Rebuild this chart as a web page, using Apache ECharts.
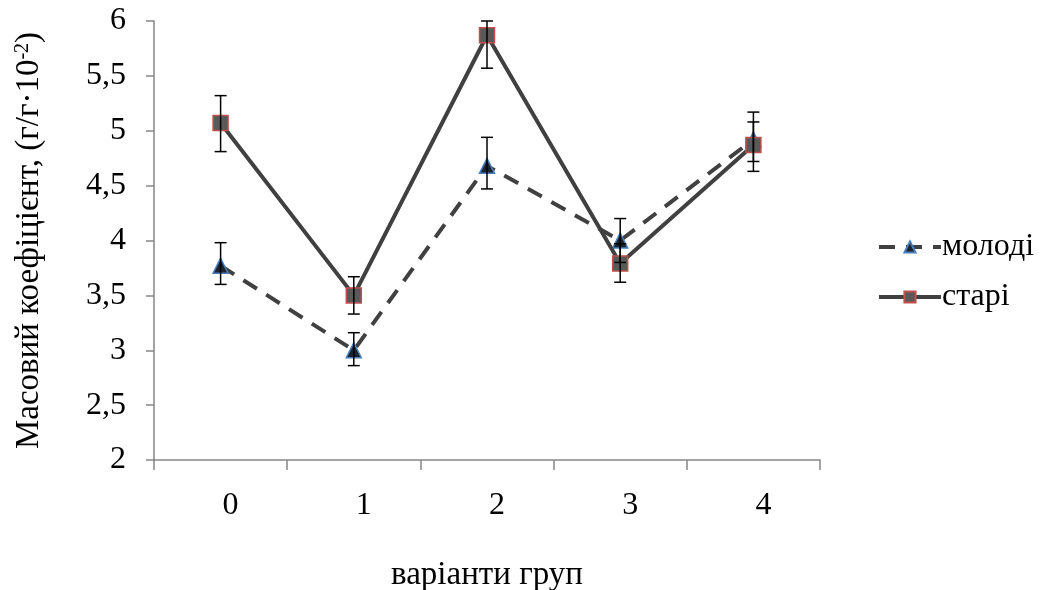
<!DOCTYPE html>
<html>
<head>
<meta charset="utf-8">
<script src="https://cdn.jsdelivr.net/npm/echarts@6/dist/echarts.min.js"></script>
<style>
html, body { margin: 0; padding: 0; background: #fff; }
#chart { width: 1052px; height: 590px; }
</style>
</head>
<body>
<div id="chart"></div>
<script>
// дані з рисунка
var groups = ['0', '1', '2', '3', '4'];
var youngVals = [3.77, 3.0, 4.68, 4.0, 4.92];
var youngLow = [3.60, 2.86, 4.47, 3.80, 4.63];
var youngHigh = [3.98, 3.16, 4.94, 4.20, 5.17];
var oldVals = [5.07, 3.50, 5.87, 3.79, 4.87];
var oldLow = [4.81, 3.33, 5.57, 3.62, 4.72];
var oldHigh = [5.32, 3.67, 6.00, 3.97, 5.08];
var yTicks = [2, 2.5, 3, 3.5, 4, 4.5, 5, 5.5, 6];

var serif = '"Liberation Serif", "Times New Roman", serif';

function errData(low, high) {
	var arr = [];
	for (var i = 0; i < low.length; i++) {
		arr.push([i, low[i], high[i]]);
	}
	return arr;
}

// вуса похибок
function renderErr(params, api) {
	var x = api.value(0);
	var lo = api.coord([x, api.value(1)]);
	var hi = api.coord([x, api.value(2)]);
	var w = 6;
	var st = { stroke: '#000', lineWidth: 1.5 };
	return {
		type: 'group',
		children: [
			{ type: 'line', shape: { x1: lo[0], y1: lo[1], x2: hi[0], y2: hi[1] }, style: st },
			{ type: 'line', shape: { x1: lo[0] - w, y1: lo[1], x2: lo[0] + w, y2: lo[1] }, style: st },
			{ type: 'line', shape: { x1: hi[0] - w, y1: hi[1], x2: hi[0] + w, y2: hi[1] }, style: st }
		]
	};
}

var myChart = echarts.init(document.getElementById('chart'));

var option = {
	animation: false,
	backgroundColor: '#fff',
	grid: { left: 154, right: 232, top: 21, bottom: 130, outerBoundsMode: 'none', containLabel: false },
	legend: {
		orient: 'vertical',
		left: 872,
		top: 224,
		itemWidth: 62,
		itemHeight: 14,
		itemGap: 14,
		data: ['молоді', 'старі'],
		lineStyle: { width: 4 },
		textStyle: { fontFamily: serif, fontSize: 32, lineHeight: 36, color: '#000', padding: [0, 0, 0, -4] }
	},
	xAxis: {
		type: 'category',
		data: groups,
		boundaryGap: true,
		name: 'варіанти груп',
		nameLocation: 'middle',
		nameGap: 99,
		nameTextStyle: { fontFamily: serif, fontSize: 33, color: '#000' },
		axisLine: { lineStyle: { color: '#868686', width: 1.5 } },
		axisTick: { show: true, length: 10, alignWithLabel: false, lineStyle: { color: '#868686', width: 1.5 } },
		axisLabel: { fontFamily: serif, fontSize: 32, color: '#000', margin: 30, padding: [0, 0, 0, 20] }
	},
	yAxis: {
		type: 'value',
		min: 2,
		max: 6,
		interval: 0.5,
		name: '{a|Масовий коефіцієнт, (г/г·10}{s|-2}{a|)}',
		nameLocation: 'middle',
		nameGap: 108,
		nameRotate: 90,
		nameTextStyle: {
			rich: {
				a: { fontFamily: serif, fontSize: 33, color: '#000' },
				s: { fontFamily: serif, fontSize: 20, color: '#000', verticalAlign: 'top', padding: [0, 0, 12, 0] }
			}
		},
		splitLine: { show: false },
		axisLine: { show: true, lineStyle: { color: '#868686', width: 1.5 } },
		axisTick: { show: true, length: 8, lineStyle: { color: '#868686', width: 1.5 } },
		axisLabel: {
			fontFamily: serif, fontSize: 32, color: '#000', margin: 28,
			formatter: function (v) { return String(v).replace('.', ','); }
		}
	},
	series: [
		{
			name: 'молоді',
			type: 'line',
			data: youngVals,
			symbol: 'triangle',
			symbolSize: 15,
			z: 3,
			lineStyle: { color: '#404040', width: 4, type: [16, 11] },
			itemStyle: { color: '#1c2430', borderColor: '#4a7ebb', borderWidth: 1.5 }
		},
		{
			name: 'старі',
			type: 'line',
			data: oldVals,
			symbol: 'rect',
			symbolSize: 15,
			z: 4,
			lineStyle: { color: '#404040', width: 4 },
			itemStyle: { color: '#595959', borderColor: '#c0504d', borderWidth: 1.5 }
		},
		{
			type: 'custom',
			renderItem: renderErr,
			data: errData(youngLow, youngHigh),
			z: 5,
			silent: true
		},
		{
			type: 'custom',
			renderItem: renderErr,
			data: errData(oldLow, oldHigh),
			z: 5,
			silent: true
		}
	]
};

myChart.setOption(option);
</script>
</body>
</html>
